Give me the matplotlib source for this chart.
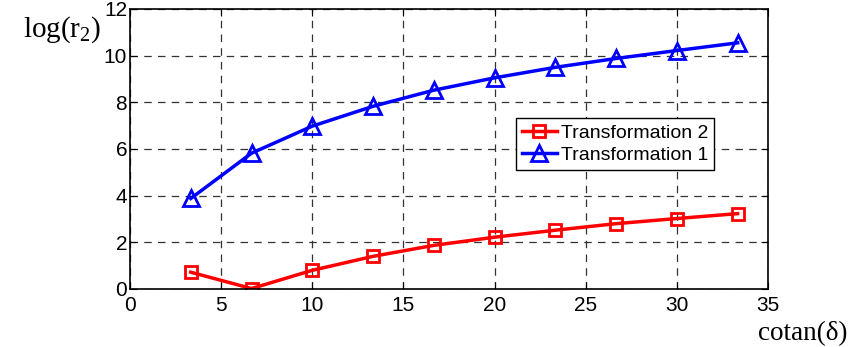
import numpy as np
import matplotlib
matplotlib.use('Agg')
import matplotlib.pyplot as plt

#
#--- data
#
cotan = [10/3, 20/3, 10, 40/3, 50/3, 20, 70/3, 80/3, 30, 100/3]
trans2 = [0.72, 0.02, 0.8, 1.4, 1.87, 2.22, 2.52, 2.8, 3.02, 3.23]
trans1 = [3.88, 5.82, 6.98, 7.83, 8.52, 9.05, 9.5, 9.88, 10.22, 10.55]

xticks = [0, 5, 10, 15, 20, 25, 30, 35]
yticks = [0, 2, 4, 6, 8, 10, 12]

plt.rcParams['font.family'] = 'Liberation Sans'
plt.rcParams['mathtext.fontset'] = 'custom'
plt.rcParams['mathtext.rm'] = 'Liberation Serif'
plt.rcParams['mathtext.it'] = 'Liberation Serif'

fig = plt.figure(figsize=(8.56, 3.47), dpi=100)
ax = fig.add_axes([130/856, 1 - 289/347, 638/856, 280/347])

ax.plot(cotan, trans2, color='red', marker='s', markersize=9, markerfacecolor='none',
        markeredgewidth=2, lw=2.5, label='Transformation 2')
ax.plot(cotan, trans1, color='blue', marker='^', markersize=11, markerfacecolor='none',
        markeredgewidth=2, lw=2.5, label='Transformation 1')

ax.set_xlim(0, 35)
ax.set_ylim(0, 12)
ax.set_xticks(xticks)
ax.set_yticks(yticks)
ax.tick_params(direction='in', labelsize=15, length=5, top=True, right=True)
ax.tick_params(axis='x', pad=5)
ax.tick_params(axis='y', pad=2)
ax.grid(True, color='#333333', linestyle=(0, (6, 5)), lw=0.9)
for s in ax.spines.values():
    s.set_linewidth(1.2)

fig.text(62/856, 1 - 30/347, 'log(r$_\\mathrm{2}$)', fontsize=21, family='Liberation Serif',
         ha='center', va='center')
fig.text(803/856, 1 - 346/347, 'cotan(\u03b4)', fontsize=19.5, family='Liberation Serif',
         ha='center', va='bottom')

leg = ax.legend(loc='upper left', bbox_to_anchor=(0.605, 0.61), fontsize=14,
                frameon=True, fancybox=False, edgecolor='black', framealpha=1,
                handlelength=1.8, handletextpad=0.2, borderpad=0.3, labelspacing=0.25,
                borderaxespad=0)
leg.get_frame().set_linewidth(1.0)

fig.savefig('out.png', dpi=100)
